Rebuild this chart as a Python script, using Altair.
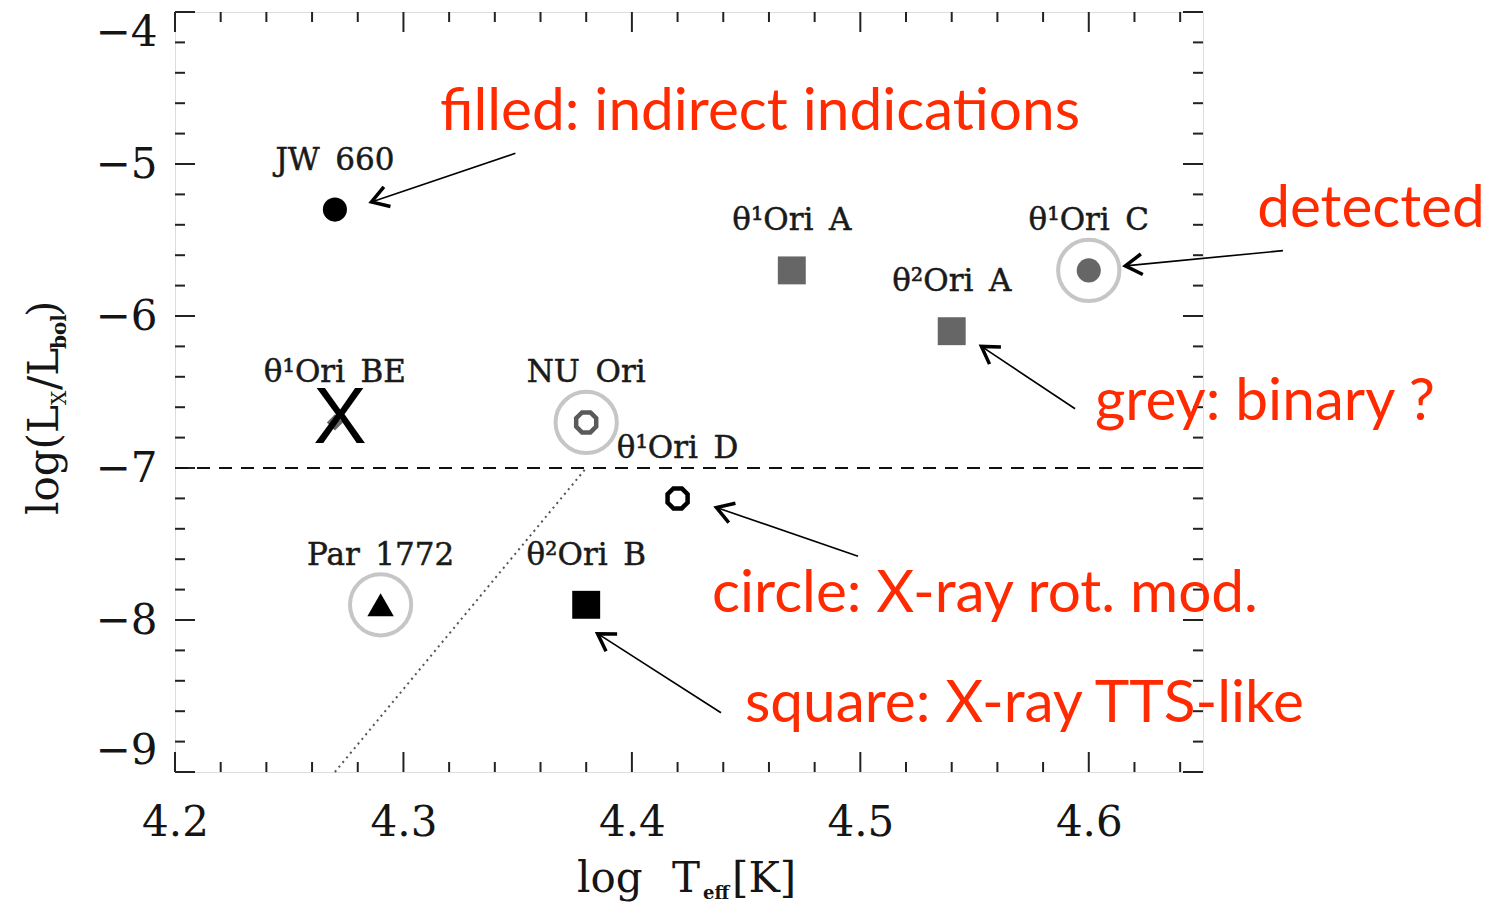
import math

import altair as alt
import pandas as pd

# Plot area size in pixels and data ranges
W, H = 1028, 760
X_DOMAIN = [4.2, 4.65]
Y_DOMAIN = [-9.0, -4.0]

# Stars: effective temperature, X-ray to bolometric ratio and symbol style
star_names = ["JW\u2002660", "θ¹Ori\u2002A", "θ²Ori\u2002A", "θ¹Ori\u2002C", "θ¹Ori\u2002BE",
              "NU\u2002Ori", "θ¹Ori\u2002D", "Par\u20021772", "θ²Ori\u2002B"]
log_teff = [4.27, 4.47, 4.54, 4.60, 4.27, 4.38, 4.42, 4.29, 4.38]
log_lx_lbol = [-5.30, -5.70, -6.10, -5.70, -6.70, -6.70, -7.20, -7.90, -7.90]
marker_kind = ["circle", "square", "square", "circle", "diamond",
               "octagon", "octagon", "triangle", "square"]
marker_tone = ["black", "grey", "grey", "grey", "grey",
               "darkgrey", "black", "black", "black"]
is_filled = [True, True, True, True, True, False, False, True, True]
is_detected = [False, False, False, True, False, True, False, True, False]

# Reference lines
threshold_level = -7.0
slope_teff = [4.27, 4.38]
slope_lx = [-9.0, -7.0]

# Axis ticks
x_major_ticks = [4.2, 4.3, 4.4, 4.5, 4.6]
y_major_ticks = [-9, -8, -7, -6, -5, -4]
x_minor_ticks = [round(4.2 + 0.02 * i, 2) for i in range(1, 23)]
x_minor_ticks = [v for v in x_minor_ticks if round(v * 10, 6) % 1 != 0]
y_minor_ticks = [round(-9 + 0.2 * i, 1) for i in range(1, 25)]
y_minor_ticks = [v for v in y_minor_ticks if v != int(v)]

# Red notes (left edge / baseline, data units)
note_text = ["filled: indirect indications", "detected", "grey: binary ?",
             "circle: X-ray rot. mod.", "square: X-ray TTS-like"]
note_teff = [4.316, 4.6737, 4.6027, 4.4351, 4.4495]
note_lx = [-4.776, -5.414, -6.684, -7.947, -8.671]

# Arrows from notes to stars (tail -> tip, data units)
arrow_teff0 = [4.349, 4.685, 4.594, 4.499, 4.439]
arrow_lx0 = [-4.93, -5.57, -6.61, -7.58, -8.61]
arrow_teff1 = [4.286, 4.616, 4.553, 4.437, 4.385]
arrow_lx1 = [-5.25, -5.67, -6.20, -7.26, -8.09]

OCTAGON = ("M0.383,-0.924L0.924,-0.383L0.924,0.383L0.383,0.924"
           "L-0.383,0.924L-0.924,0.383L-0.924,-0.383L-0.383,-0.924Z")
CHEVRON = "M-1,-0.62L0,0L-1,0.62"

stars = pd.DataFrame({
    "name": star_names, "teff": log_teff, "lx": log_lx_lbol,
    "kind": marker_kind, "tone": marker_tone,
    "filled": is_filled, "detected": is_detected,
})

sx = W / (X_DOMAIN[1] - X_DOMAIN[0])
sy = H / (Y_DOMAIN[1] - Y_DOMAIN[0])
arrows = pd.DataFrame({"x0": arrow_teff0, "y0": arrow_lx0,
                       "x1": arrow_teff1, "y1": arrow_lx1})
arrows["angle"] = [
    math.degrees(math.atan2(-(b1 - b0) * sy, (a1 - a0) * sx)) % 360
    for a0, b0, a1, b1 in zip(arrow_teff0, arrow_lx0, arrow_teff1, arrow_lx1)
]
notes = pd.DataFrame({"text": note_text, "x": note_teff, "y": note_lx})

x_scale = alt.Scale(domain=X_DOMAIN, nice=False, zero=False)
y_scale = alt.Scale(domain=Y_DOMAIN, nice=False, zero=False)
shape_scale = alt.Scale(domain=["circle", "square", "diamond", "triangle", "octagon"],
                        range=["circle", "square", "diamond", "triangle-up", OCTAGON])
size_scale = alt.Scale(type="ordinal",
                       domain=["circle", "square", "diamond", "triangle", "octagon"],
                       range=[580, 780, 260, 700, 470])
color_scale = alt.Scale(domain=["black", "grey", "darkgrey"],
                        range=["#000000", "#666666", "#5a5a5a"])

SERIF = "DejaVu Serif"
x_axis = alt.Axis(values=x_major_ticks, format=".1f", title=None, grid=False,
                  ticks=False, tickSize=0, domain=False, labelFont=SERIF,
                  labelFontSize=42, labelPadding=30, labelFlush=False,
                  labelOverlap=False, labelColor="#151515")
y_axis = alt.Axis(values=y_major_ticks, format="d", title=None, grid=False,
                  ticks=False, tickSize=0, domain=False, labelFont=SERIF,
                  labelFontSize=42, labelPadding=18, labelFlush=True,
                  labelOverlap=False, labelColor="#151515")


def xq(field):
    return alt.X(f"{field}:Q", scale=x_scale, axis=x_axis)


def yq(field):
    return alt.Y(f"{field}:Q", scale=y_scale, axis=y_axis)


# Tick marks drawn inward on all four sides
def tick_layers(values, length, horizontal_axis):
    df = pd.DataFrame({"v": values})
    base = alt.Chart(df).mark_rule(color="#222222", strokeWidth=2)
    if horizontal_axis:
        return [
            base.encode(x=xq("v"), y=alt.value(H), y2=alt.value(H - length)),
            base.encode(x=xq("v"), y=alt.value(0), y2=alt.value(length)),
        ]
    return [
        base.encode(y=yq("v"), x=alt.value(0), x2=alt.value(length)),
        base.encode(y=yq("v"), x=alt.value(W), x2=alt.value(W - length)),
    ]


ticks = (tick_layers(x_major_ticks, 20, True) + tick_layers(x_minor_ticks, 10, True)
         + tick_layers(y_major_ticks, 20, False) + tick_layers(y_minor_ticks, 10, False))

threshold = alt.Chart(pd.DataFrame({"y": [threshold_level]})).mark_rule(
    color="#111111", strokeWidth=2, strokeDash=[13, 9]
).encode(y=yq("y"), x=alt.value(0), x2=alt.value(W))

slope = alt.Chart(pd.DataFrame({"x": [slope_teff[0]], "y": [slope_lx[0]],
                                "x2": [slope_teff[1]], "y2": [slope_lx[1]]})).mark_rule(
    color="#555555", strokeWidth=2, strokeDash=[2, 4]
).encode(x=xq("x"), y=yq("y"), x2="x2:Q", y2="y2:Q")

rings = alt.Chart(stars).transform_filter("datum.detected").mark_point(
    shape="circle", filled=False, stroke="#c6c6c6", strokeWidth=4, size=3750, opacity=1
).encode(x=xq("teff"), y=yq("lx"))

filled_pts = alt.Chart(stars).transform_filter("datum.filled").mark_point(
    filled=True, opacity=1, strokeWidth=0
).encode(
    x=xq("teff"), y=yq("lx"),
    shape=alt.Shape("kind:N", scale=shape_scale, legend=None),
    size=alt.Size("kind:N", scale=size_scale, legend=None),
    color=alt.Color("tone:N", scale=color_scale, legend=None),
)

open_pts = alt.Chart(stars).transform_filter("!datum.filled").mark_point(
    filled=False, opacity=1, strokeWidth=4.5
).encode(
    x=xq("teff"), y=yq("lx"),
    shape=alt.Shape("kind:N", scale=shape_scale, legend=None),
    size=alt.Size("kind:N", scale=size_scale, legend=None),
    color=alt.Color("tone:N", scale=color_scale, legend=None),
)

cross = alt.Chart(stars).transform_filter("datum.kind == 'diamond'").mark_text(
    text="X", font="Liberation Sans", fontSize=80, color="#000000",
    align="center", baseline="middle", dx=5, dy=-3
).encode(x=xq("teff"), y=yq("lx"))

names = alt.Chart(stars).mark_text(
    font=SERIF, fontSize=31, color="#1a1a1a", stroke="#1a1a1a", strokeWidth=0.5,
    align="center", baseline="middle", dy=-49
).encode(x=xq("teff"), y=yq("lx"), text="name:N")

shafts = alt.Chart(arrows).mark_rule(color="#000000", strokeWidth=1.6).encode(
    x=xq("x0"), y=yq("y0"), x2="x1:Q", y2="y1:Q"
)
heads = alt.Chart(arrows).mark_point(
    shape=CHEVRON, filled=False, stroke="#000000", strokeWidth=3.5, size=1100, opacity=1
).encode(x=xq("x1"), y=yq("y1"), angle=alt.Angle("angle:Q", scale=None))

note_marks = alt.Chart(notes).mark_text(
    font="Lato", fontSize=58.5, color="#ff2a00", align="left", baseline="alphabetic"
).encode(x=xq("x"), y=yq("y"), text="text:N")


# Axis titles built from pieces so the subscripts sit lower and smaller
def piece(text, px, py, size, angle=0, weight="normal"):
    return alt.Chart(pd.DataFrame({"t": [text]})).mark_text(
        font=SERIF, fontSize=size, fontWeight=weight, align="left",
        baseline="alphabetic", angle=angle, color="#151515"
    ).encode(x=alt.value(px), y=alt.value(py), text="t:N")


x_title = [
    piece("log", 402, 880, 42),
    piece("T", 497, 880, 42),
    piece("eff", 528, 887, 18, weight="bold"),
    piece("[K]", 557, 880, 42),
]
y_title = [
    piece("log(L", -117, 503, 42, angle=270),
    piece("X", -109, 393, 20, angle=270),
    piece("/L", -117, 378, 42, angle=270),
    piece("bol", -109, 337, 20, angle=270, weight="bold"),
    piece(")", -117, 305, 42, angle=270),
]

chart = alt.layer(
    *ticks, threshold, slope, rings, filled_pts, open_pts, cross, names,
    shafts, heads, note_marks, *x_title, *y_title
).properties(
    width=W, height=H,
    padding={"left": 175, "top": 12, "right": 292, "bottom": 136},
    autosize=alt.AutoSizeParams(type="none"),
).configure_view(
    stroke="#333333", strokeWidth=2
).configure(background="white")

chart.save("out.html", embed_options={"renderer": "svg", "actions": False})
